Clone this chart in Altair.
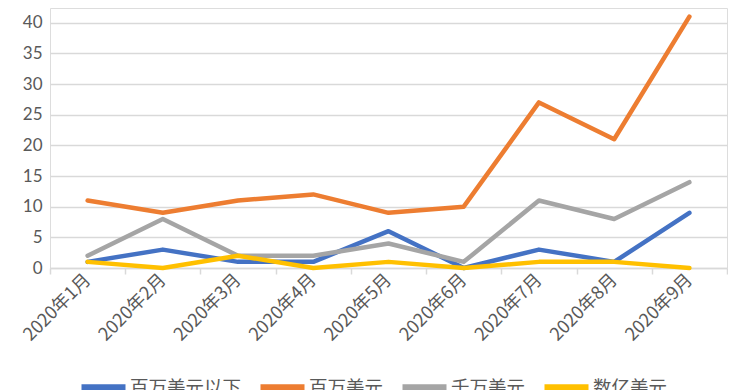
import altair as alt
import pandas as pd

months = ["2020年1月", "2020年2月", "2020年3月", "2020年4月", "2020年5月",
          "2020年6月", "2020年7月", "2020年8月", "2020年9月"]
series_names = ["百万美元以下", "百万美元", "千万美元", "数亿美元"]
below_million = [1, 3, 1, 1, 6, 0, 3, 1, 9]
million = [11, 9, 11, 12, 9, 10, 27, 21, 41]
ten_million = [2, 8, 2, 2, 4, 1, 11, 8, 14]
hundreds_million = [1, 0, 2, 0, 1, 0, 1, 1, 0]
colors = ["#4472C4", "#ED7D31", "#A5A5A5", "#FFC000"]

rows = []
for name, vals in zip(series_names, [below_million, million, ten_million, hundreds_million]):
    for m, v in zip(months, vals):
        rows.append({"month": m, "series": name, "value": v})
df = pd.DataFrame(rows)

chart = alt.Chart(df).mark_line(strokeWidth=4.5, strokeJoin="round", strokeCap="round").encode(
    x=alt.X("month:N", sort=months, bandPosition=0.5,
            scale=alt.Scale(type="band", paddingInner=0, paddingOuter=0),
            axis=alt.Axis(title=None, labelAngle=-45, labelAlign="right", labelBaseline="middle",
                          labelFontSize=18, labelColor="#595959", labelPadding=3,
                          domainColor="#D9D9D9", domainWidth=1.5, tickColor="#D9D9D9",
                          tickWidth=1.5, tickSize=6, tickBand="extent", grid=False,
                          labelFont="Noto Sans CJK SC")),
    y=alt.Y("value:Q", scale=alt.Scale(domain=[0, 42.4], nice=False),
            axis=alt.Axis(title=None, values=[0, 5, 10, 15, 20, 25, 30, 35, 40],
                          labelFontSize=17, labelColor="#595959", labelPadding=8,
                          domain=False, ticks=False, gridColor="#D9D9D9", gridWidth=1.5,
                          minExtent=42, labelFont="Lato")),
    color=alt.Color("series:N", sort=series_names,
                    scale=alt.Scale(domain=series_names, range=colors),
                    legend=alt.Legend(title=None, orient="none", direction="horizontal",
                                      columns=4, legendX=28, legendY=354,
                                      symbolType="stroke", symbolSize=1936, symbolStrokeWidth=7,
                                      labelFontSize=18.5, labelColor="#595959", columnPadding=4,
                                      labelOffset=1, labelFont="Noto Sans CJK SC")),
    order=alt.Order("series_order:Q"),
).transform_calculate(
    series_order="indexof(['百万美元以下','百万美元','千万美元','数亿美元'], datum.series)"
).properties(width=677, height=260, padding=0).configure_view(stroke=None).configure(background="white")

chart.save("out.html", embed_options={"renderer": "svg", "actions": False})
